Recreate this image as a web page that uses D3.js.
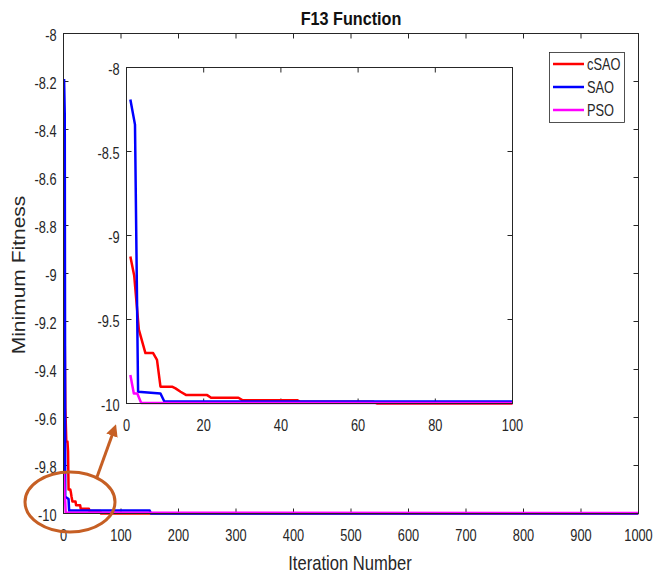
<!DOCTYPE html>
<html>
<head>
<meta charset="utf-8">
<script src="https://cdn.jsdelivr.net/npm/d3@7"></script>
<style>
  body { margin: 0; background: #fff; }
  svg { display: block; font-family: "Liberation Sans", Arial, sans-serif; }
</style>
</head>
<body>
<svg width="657" height="578"></svg>
<script>
(function (d3) {
  'use strict';

  // breakpoints: [iteration, minimum fitness]
  const csao = [[1, -9.125], [2, -9.24], [3.2, -9.56], [4.9, -9.70], [6.9, -9.70], [7.9, -9.74],
    [8.8, -9.90], [11.8, -9.90], [12.7, -9.91], [14, -9.93], [15.5, -9.95], [20.9, -9.95],
    [21.9, -9.966], [29, -9.966], [30, -9.98], [44.2, -9.98], [45, -9.99], [64, -9.99],
    [65, -10], [1000, -10]];
  const sao = [[1, -8.19], [2.2, -8.34], [3, -9.93], [8.8, -9.94], [9.8, -9.988], [150, -9.988],
    [152, -10], [1000, -10]];
  const pso = [[1, -9.83], [1.9, -9.94], [2.8, -9.94], [3.8, -9.997], [1000, -9.998]];

  const seriesNames = ['cSAO', 'SAO', 'PSO'];
  const seriesColors = ['#ff0000', '#0000ff', '#ff00ff'];
  const seriesData = [csao, sao, pso];

  const mainXTicks = d3.range(0, 1001, 100);
  const mainYTicks = [-8, -8.2, -8.4, -8.6, -8.8, -9, -9.2, -9.4, -9.6, -9.8, -10];
  const insetXTicks = [0, 20, 40, 60, 80, 100];
  const insetYTicks = [-8, -8.5, -9, -9.5, -10];

  const svg = d3.select('svg');
  const axisColor = '#262626';

  // the picture is a little squeezed sideways, so text gets a horizontal scale
  function label(g, x, y, str, size, anchor, sx, weight) {
    return g.append('text')
      .attr('transform', `translate(${x},${y}) scale(${sx},1)`)
      .attr('text-anchor', anchor)
      .attr('font-size', size)
      .attr('font-weight', weight || 'normal')
      .attr('fill', axisColor)
      .text(str);
  }

  function drawFrame(g, x, y, xTicks, yTicks) {
    const [x0, x1] = x.range();
    const [y0, y1] = y.range(); // y0 bottom
    const tl = 5;
    g.append('rect')
      .attr('x', x0).attr('y', y1)
      .attr('width', x1 - x0).attr('height', y0 - y1)
      .attr('fill', '#fff');

    xTicks.forEach(t => {
      const px = x(t);
      g.append('line').attr('x1', px).attr('x2', px).attr('y1', y0).attr('y2', y0 - tl)
        .attr('stroke', axisColor);
      g.append('line').attr('x1', px).attr('x2', px).attr('y1', y1).attr('y2', y1 + tl)
        .attr('stroke', axisColor);
      label(g, px, y0 + 27, t, 16, 'middle', 0.8);
    });
    yTicks.forEach(t => {
      const py = y(t);
      g.append('line').attr('x1', x0).attr('x2', x0 + tl).attr('y1', py).attr('y2', py)
        .attr('stroke', axisColor);
      g.append('line').attr('x1', x1).attr('x2', x1 - tl).attr('y1', py).attr('y2', py)
        .attr('stroke', axisColor);
      label(g, x0 - 7, py + 7, t, 16, 'end', 0.8);
    });
  }

  function drawLines(g, x, y, clipId) {
    const [x0, x1] = x.range();
    const [y0, y1] = y.range();
    svg.append('clipPath').attr('id', clipId)
      .append('rect')
      .attr('x', x0).attr('y', y1 - 3)
      .attr('width', x1 - x0).attr('height', y0 - y1 + 6);
    const line = d3.line().x(d => x(d[0])).y(d => y(d[1]));
    const lines = g.append('g').attr('clip-path', `url(#${clipId})`);
    seriesData.forEach((s, i) => {
      lines.append('path')
        .attr('d', line(s))
        .attr('fill', 'none')
        .attr('stroke', seriesColors[i])
        .attr('stroke-width', 2.5)
        .attr('stroke-linejoin', 'round');
    });
  }

  function drawBox(g, x, y) {
    const [x0, x1] = x.range();
    const [y0, y1] = y.range();
    g.append('rect')
      .attr('x', x0).attr('y', y1)
      .attr('width', x1 - x0).attr('height', y0 - y1)
      .attr('fill', 'none').attr('stroke', axisColor).attr('stroke-width', 1);
  }

  // main chart
  const x = d3.scaleLinear().domain([0, 1000]).range([63.5, 638.5]);
  const y = d3.scaleLinear().domain([-10, -8]).range([513.5, 33.5]);
  const main = svg.append('g');
  drawFrame(main, x, y, mainXTicks, mainYTicks);
  drawLines(main, x, y, 'clip-main');
  drawBox(main, x, y);

  // inset
  const xi = d3.scaleLinear().domain([0, 100]).range([126.5, 512.5]);
  const yi = d3.scaleLinear().domain([-10, -8]).range([403.5, 67.5]);
  const inset = svg.append('g');
  drawFrame(inset, xi, yi, insetXTicks, insetYTicks);
  drawLines(inset, xi, yi, 'clip-inset');
  drawBox(inset, xi, yi);

  // title and axis labels
  label(svg, 351, 25, 'F13 Function', 18, 'middle', 0.9, 'bold').attr('fill', '#111');
  label(svg, 350, 570, 'Iteration Number', 20, 'middle', 0.83);
  svg.append('text')
    .attr('transform', 'translate(25,275) rotate(-90) scale(1,0.83)')
    .attr('text-anchor', 'middle')
    .attr('font-size', 21).attr('fill', axisColor)
    .text('Minimum Fitness');

  // legend
  const legend = svg.append('g');
  legend.append('rect')
    .attr('x', 549.5).attr('y', 52.5).attr('width', 75).attr('height', 70)
    .attr('fill', '#fff').attr('stroke', axisColor).attr('stroke-width', 0.8);
  seriesNames.forEach((name, i) => {
    const ly = 64 + i * 23;
    legend.append('line')
      .attr('x1', 553).attr('x2', 584).attr('y1', ly).attr('y2', ly)
      .attr('stroke', seriesColors[i]).attr('stroke-width', 2.5);
    label(legend, 587, ly + 6, name, 16, 'start', 0.8);
  });

  // orange zoom marker
  const orange = '#c65f24';
  svg.append('defs').append('marker')
    .attr('id', 'arrow')
    .attr('viewBox', '0 0 10 10')
    .attr('refX', 5).attr('refY', 5)
    .attr('markerWidth', 4).attr('markerHeight', 4)
    .attr('orient', 'auto')
    .append('path')
    .attr('d', 'M0,0 L10,5 L0,10 Z')
    .attr('fill', orange);

  svg.append('ellipse')
    .attr('cx', 70).attr('cy', 502).attr('rx', 45).attr('ry', 30)
    .attr('fill', 'none').attr('stroke', orange).attr('stroke-width', 3);

  svg.append('line')
    .attr('x1', 97).attr('y1', 477).attr('x2', 114).attr('y2', 430)
    .attr('stroke', orange).attr('stroke-width', 3)
    .attr('marker-end', 'url(#arrow)');

}(d3));
</script>
</body>
</html>
